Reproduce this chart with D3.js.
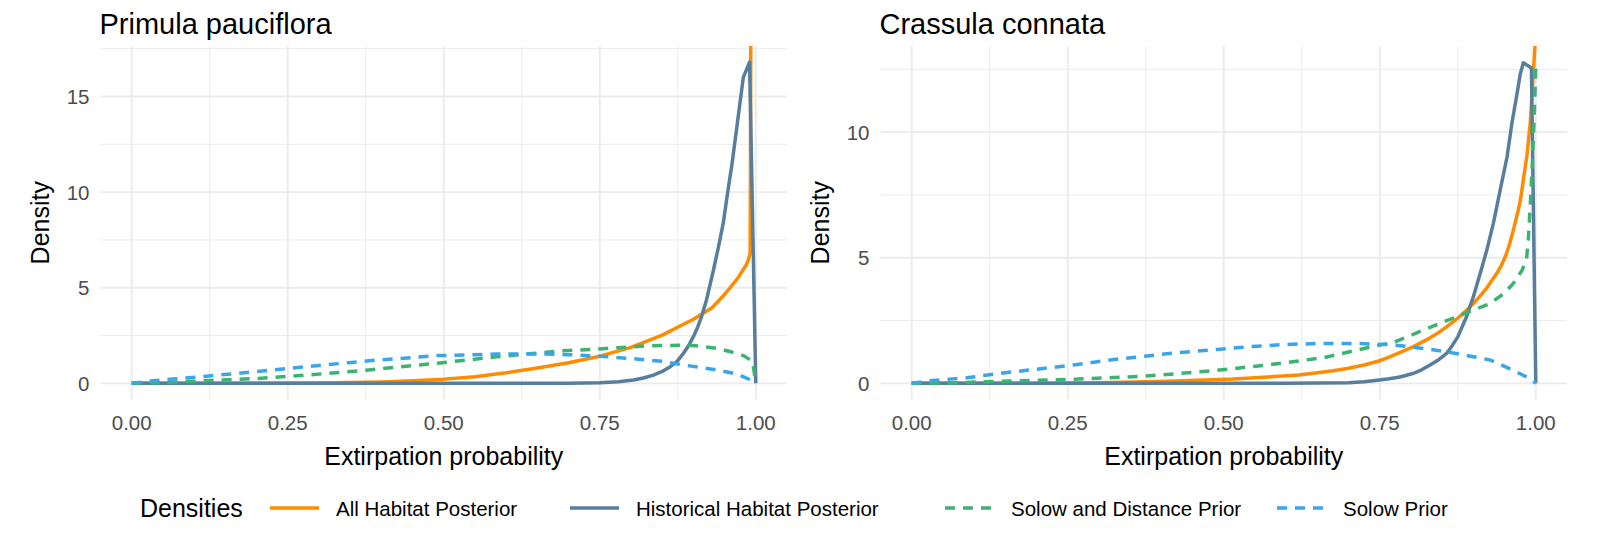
<!DOCTYPE html>
<html lang="en">
<head>
<meta charset="utf-8">
<title>Extirpation probability densities</title>
<script src="https://d3js.org/d3.v7.min.js"></script>
<style>
  body { margin: 0; background: #fff; }
  text { font-family: "Liberation Sans", Arial, sans-serif; }
</style>
</head>
<body>
<script>
// series names, legend order
var seriesNames = ["All Habitat Posterior", "Historical Habitat Posterior", "Solow and Distance Prior", "Solow Prior"];
var seriesColors = ["#ff8c00", "#587e9e", "#3cb371", "#3aa6ea"];
var seriesDash = [null, null, "10,8", "10,8"];

var speciesNames = ["Primula pauciflora", "Crassula connata"];

// x ticks
var xTicks = [0, 0.25, 0.5, 0.75, 1];
var xTickLabels = ["0.00", "0.25", "0.50", "0.75", "1.00"];

// Primula pauciflora densities [x, density]
var primulaAll = [[0,0],[0.1,0],[0.2,0.005],[0.3,0.02],[0.4,0.07],[0.45,0.13],[0.5,0.22],[0.55,0.35],[0.6,0.55],
  [0.65,0.8],[0.7,1.08],[0.75,1.42],[0.8,1.88],[0.85,2.52],[0.9,3.35],[0.93,3.95],[0.95,4.65],[0.96,5.05],[0.97,5.45],
  [0.975,5.7],[0.98,5.95],[0.985,6.2],[0.988,6.45],[0.991,6.8],[0.993,30],[1.0,60]];
var primulaHist = [[0,0],[0.5,0],[0.7,0.005],[0.75,0.03],[0.78,0.08],[0.804,0.17],[0.82,0.28],[0.836,0.43],
  [0.85,0.62],[0.863,0.87],[0.874,1.15],[0.884,1.57],[0.892,1.95],[0.9,2.44],[0.907,2.95],[0.913,3.48],[0.921,4.36],
  [0.932,5.9],[0.94,7.1],[0.948,8.4],[0.955,10.0],[0.962,11.5],[0.97,13.5],[0.98,16.0],[0.99,16.8],[1.0,0]];
var primulaSolowDist = [[0,0],[0.05,0.04],[0.12,0.14],[0.2,0.25],[0.28,0.43],[0.38,0.7],[0.49,1.05],[0.585,1.39],
  [0.69,1.7],[0.75,1.8],[0.82,1.95],[0.884,2.0],[0.91,1.95],[0.9375,1.83],[0.96,1.65],[0.98,1.45],[0.995,1.15],[1.0,0]];
var primulaSolow = [[0,0],[0.03,0.12],[0.06,0.21],[0.12,0.37],[0.2,0.62],[0.28,0.87],[0.38,1.18],[0.49,1.45],
  [0.585,1.53],[0.65,1.54],[0.7,1.5],[0.75,1.42],[0.8,1.3],[0.85,1.15],[0.884,0.96],[0.9375,0.7],[0.97,0.48],
  [0.99,0.2],[1.0,0.02]];

// Crassula connata densities [x, density]
var crassulaAll = [[0,0],[0.2,0],[0.3,0.02],[0.41,0.08],[0.515,0.17],[0.62,0.33],[0.65,0.42],[0.675,0.5],[0.7,0.6],
  [0.725,0.73],[0.75,0.9],[0.765,1.04],[0.78,1.2],[0.804,1.46],[0.83,1.8],[0.84,1.95],[0.857,2.25],[0.87,2.5],[0.88,2.7],
  [0.9,3.18],[0.91,3.45],[0.92,3.75],[0.9375,4.38],[0.945,4.7],[0.952,5.1],[0.958,5.55],[0.964,6.1],[0.972,6.9],
  [0.976,7.4],[0.98,8.09],[0.986,9.1],[0.991,10.35],[0.996,12.34],[1.0,14]];
var crassulaHist = [[0,0],[0.6,0],[0.7,0.02],[0.725,0.06],[0.75,0.13],[0.765,0.18],[0.78,0.24],[0.79,0.3],
  [0.804,0.4],[0.817,0.54],[0.83,0.72],[0.845,0.95],[0.857,1.19],[0.866,1.5],[0.875,1.85],[0.889,2.65],[0.9,3.45],
  [0.911,4.38],[0.922,5.35],[0.932,6.37],[0.943,7.7],[0.954,9.02],[0.962,10.4],[0.97,11.54],[0.975,12.3],
  [0.98,12.76],[0.993,12.55],[1.0,0]];
var crassulaSolowDist = [[0,0],[0.05,0.01],[0.142,0.08],[0.259,0.16],[0.371,0.28],[0.483,0.5],[0.569,0.73],
  [0.66,1.02],[0.745,1.5],[0.772,1.63],[0.82,2.12],[0.873,2.65],[0.927,3.18],[0.95,3.6],[0.964,3.98],[0.978,4.5],
  [0.985,4.91],[0.988,5.7],[0.991,7.03],[0.994,8.5],[0.996,9.69],[0.998,11.0],[1.0,12.6]];
var crassulaSolow = [[0,0],[0.029,0.1],[0.088,0.22],[0.142,0.4],[0.2,0.56],[0.259,0.73],[0.318,0.93],[0.377,1.09],
  [0.43,1.23],[0.489,1.35],[0.542,1.46],[0.601,1.55],[0.66,1.59],[0.713,1.59],[0.767,1.54],[0.81,1.42],
  [0.857,1.26],[0.9,1.06],[0.927,0.93],[0.96,0.56],[0.99,0.2],[1.0,0]];

// y axis per panel: ticks and data max used for the limits
var primulaYTicks = [0, 5, 10, 15];
var crassulaYTicks = [0, 5, 10];
var primulaYMax = 16.8;
var crassulaYMax = 12.79;

var panels = [
  { title: speciesNames[0], series: [primulaAll, primulaHist, primulaSolowDist, primulaSolow], yTicks: primulaYTicks, yMax: primulaYMax, left: 100.5 },
  { title: speciesNames[1], series: [crassulaAll, crassulaHist, crassulaSolowDist, crassulaSolow], yTicks: crassulaYTicks, yMax: crassulaYMax, left: 880.5 }
];

var W = 1623, H = 552;
var panelW = 686.5, panelTop = 46, panelBottom = 399.4;
var tickSize = 20.5, axisTitleSize = 25, titleSize = 29;

var svg = d3.select("body").append("svg")
  .attr("width", W)
  .attr("height", H);

panels.forEach(function(p, k) {
  var x = d3.scaleLinear().domain([-0.05, 1.05]).range([p.left, p.left + panelW]);
  var y = d3.scaleLinear().domain([-0.05 * p.yMax, 1.05 * p.yMax]).range([panelBottom, panelTop]);
  var g = svg.append("g");

  // minor grid
  var xMinor = [0.125, 0.375, 0.625, 0.875];
  var yMinor = p.yTicks.map(function(t) { return t + 2.5; }).filter(function(t) { return t < 1.05 * p.yMax; });
  g.selectAll(".xminor").data(xMinor).enter().append("line")
    .attr("x1", function(d) { return x(d); }).attr("x2", function(d) { return x(d); })
    .attr("y1", panelTop).attr("y2", panelBottom)
    .attr("stroke", "#ebebeb").attr("stroke-width", 1);
  g.selectAll(".yminor").data(yMinor).enter().append("line")
    .attr("x1", p.left).attr("x2", p.left + panelW)
    .attr("y1", function(d) { return y(d); }).attr("y2", function(d) { return y(d); })
    .attr("stroke", "#ebebeb").attr("stroke-width", 1);

  // major grid
  g.selectAll(".xmajor").data(xTicks).enter().append("line")
    .attr("x1", function(d) { return x(d); }).attr("x2", function(d) { return x(d); })
    .attr("y1", panelTop).attr("y2", panelBottom)
    .attr("stroke", "#ebebeb").attr("stroke-width", 1.9);
  g.selectAll(".ymajor").data(p.yTicks).enter().append("line")
    .attr("x1", p.left).attr("x2", p.left + panelW)
    .attr("y1", function(d) { return y(d); }).attr("y2", function(d) { return y(d); })
    .attr("stroke", "#ebebeb").attr("stroke-width", 1.9);

  // tick labels
  g.selectAll(".xlab").data(xTicks).enter().append("text")
    .attr("x", function(d) { return x(d); })
    .attr("y", 430)
    .attr("text-anchor", "middle")
    .attr("font-size", tickSize)
    .attr("fill", "#4d4d4d")
    .text(function(d, i) { return xTickLabels[i]; });
  g.selectAll(".ylab").data(p.yTicks).enter().append("text")
    .attr("x", p.left - 11)
    .attr("y", function(d) { return y(d) + 7.4; })
    .attr("text-anchor", "end")
    .attr("font-size", tickSize)
    .attr("fill", "#4d4d4d")
    .text(function(d) { return d; });

  // titles
  g.append("text")
    .attr("x", p.left - 1)
    .attr("y", 34)
    .attr("font-size", titleSize)
    .attr("fill", "#000")
    .text(p.title);
  g.append("text")
    .attr("x", p.left + panelW / 2)
    .attr("y", 465)
    .attr("text-anchor", "middle")
    .attr("font-size", axisTitleSize)
    .attr("fill", "#000")
    .text("Extirpation probability");
  g.append("text")
    .attr("transform", "translate(" + (p.left - 52) + "," + ((panelTop + panelBottom) / 2) + ") rotate(-90)")
    .attr("text-anchor", "middle")
    .attr("font-size", axisTitleSize)
    .attr("fill", "#000")
    .text("Density");

  // lines, clipped to panel
  var clipId = "clip" + k;
  svg.append("clipPath").attr("id", clipId).append("rect")
    .attr("x", p.left).attr("y", panelTop)
    .attr("width", panelW).attr("height", panelBottom - panelTop);

  var line = d3.line()
    .x(function(d) { return x(d[0]); })
    .y(function(d) { return y(d[1]); });

  g.append("g").attr("clip-path", "url(#" + clipId + ")")
    .selectAll("path").data(p.series).enter().append("path")
    .attr("d", line)
    .attr("fill", "none")
    .attr("stroke", function(d, i) { return seriesColors[i]; })
    .attr("stroke-width", 3.5)
    .attr("stroke-linejoin", "round")
    .attr("stroke-dasharray", function(d, i) { return seriesDash[i]; });
});

// legend
var legendY = 508;
var keyX = [270, 570, 945, 1277];
var leg = svg.append("g");
leg.append("text")
  .attr("x", 140)
  .attr("y", legendY + 9)
  .attr("font-size", axisTitleSize)
  .attr("fill", "#000")
  .text("Densities");
seriesNames.forEach(function(name, i) {
  leg.append("line")
    .attr("x1", keyX[i]).attr("x2", keyX[i] + 49)
    .attr("y1", legendY).attr("y2", legendY)
    .attr("stroke", seriesColors[i])
    .attr("stroke-width", 3.5)
    .attr("stroke-dasharray", seriesDash[i]);
  leg.append("text")
    .attr("x", keyX[i] + 66)
    .attr("y", legendY + 7.5)
    .attr("font-size", tickSize)
    .attr("fill", "#000")
    .text(name);
});
</script>
</body>
</html>
